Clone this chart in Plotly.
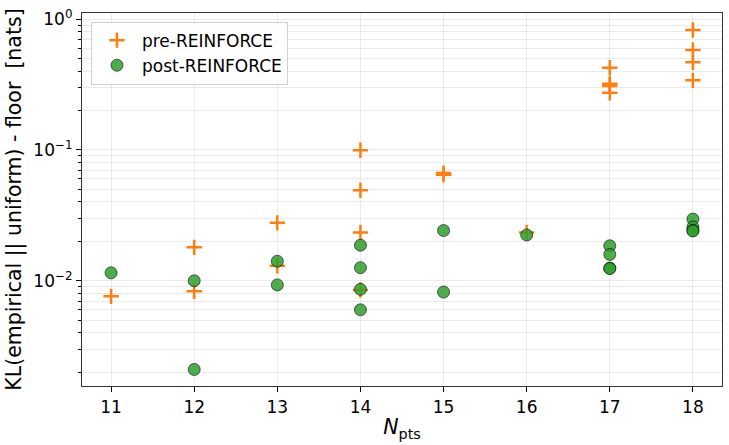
import plotly.graph_objects as go

# Data
pre_x = [11, 12, 12, 13, 13, 14, 14, 14, 14, 15, 15, 16, 17, 17, 17, 17, 18, 18, 18, 18]
pre_y = [0.0076, 0.0180, 0.0083, 0.0277, 0.0130, 0.0995, 0.0492, 0.0234, 0.0085,
         0.0645, 0.0665, 0.0234, 0.424, 0.320, 0.308, 0.273, 0.824, 0.580, 0.467, 0.340]

post_x = [11, 12, 12, 13, 13, 14, 14, 14, 14, 15, 15, 16, 17, 17, 17, 17, 18, 18, 18, 18]
post_y = [0.0115, 0.0100, 0.0021, 0.0141, 0.0093, 0.0187, 0.0126, 0.0086, 0.0060,
          0.0242, 0.0082, 0.0224, 0.0185, 0.0159, 0.0125, 0.0124, 0.0296, 0.0258, 0.0243, 0.0240]

x_ticks = [11, 12, 13, 14, 15, 16, 17, 18]
y_major = [1, 0.1, 0.01]
y_major_text = ["10<sup>0</sup>", "10<sup>\u22121</sup>", "10<sup>\u22122</sup>"]
y_minor = [m * 10.0 ** e for e in (-3, -2, -1) for m in range(2, 10)]

FONT = "DejaVu Sans"

fig = go.Figure()
fig.add_trace(go.Scatter(
    x=pre_x, y=pre_y, mode="markers", name="pre-REINFORCE",
    marker=dict(symbol="cross-thin", size=11, color="#ff7f0e",
                line=dict(color="#ff7f0e", width=2.5)),
))
fig.add_trace(go.Scatter(
    x=post_x, y=post_y, mode="markers", name="post-REINFORCE",
    marker=dict(symbol="circle", size=12, color="#2ca02c", opacity=0.85,
                line=dict(color="rgba(0,0,0,0.8)", width=0.9)),
))

grid = "rgba(0,0,0,0.08)"
fig.update_layout(
    width=729, height=445,
    margin=dict(l=82, r=7, t=13, b=59),
    paper_bgcolor="white", plot_bgcolor="white",
    font=dict(family=FONT, size=17, color="black"),
    showlegend=True,
    legend=dict(x=0.014, y=0.977, xanchor="left", yanchor="top",
                bgcolor="rgba(255,255,255,0.85)", bordercolor="#d0d0d0", borderwidth=1,
                font=dict(family=FONT, size=17), tracegroupgap=4, itemwidth=40),
    xaxis=dict(
        range=[10.65, 18.35], tickmode="array", tickvals=x_ticks,
        ticks="outside", ticklen=5, tickcolor="black", tickwidth=1,
        showgrid=True, gridcolor=grid, gridwidth=1,
        showline=True, linecolor="#333", linewidth=1.2, mirror=True, zeroline=False,
        tickfont=dict(family=FONT, size=17),
        title=dict(text="<i>N</i><sub>pts</sub>", font=dict(family=FONT, size=20.5), standoff=4),
    ),
    yaxis=dict(
        type="log", range=[-2.804, 0.046], tickmode="array",
        tickvals=y_major, ticktext=y_major_text,
        ticks="outside", ticklen=5, tickcolor="black", tickwidth=1,
        showgrid=True, gridcolor=grid, gridwidth=1,
        minor=dict(tickvals=y_minor, ticks="outside", ticklen=3, tickcolor="black",
                   showgrid=True, gridcolor=grid, gridwidth=1),
        showline=True, linecolor="#333", linewidth=1.2, mirror=True, zeroline=False,
        tickfont=dict(family=FONT, size=17),
        title=dict(text="KL(empirical || uniform) - floor \u00a0[nats]",
                   font=dict(family=FONT, size=20.5), standoff=6),
    ),
)

fig.write_html("out.html")
